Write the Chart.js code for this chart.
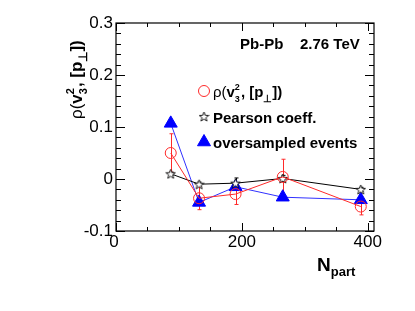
<!DOCTYPE html>
<html>
<head>
<meta charset="utf-8">
<script src="https://cdn.jsdelivr.net/npm/chart.js@4"></script>
<style>
  html, body { margin: 0; padding: 0; background: #fff; }
  #wrap { width: 415px; height: 311px; }
</style>
</head>
<body>
<div id="wrap"><canvas id="chart" width="415" height="311"></canvas></div>
<script>
const nPart = [87, 132, 190, 265, 389];
const rhoValues = [0.05, -0.037, -0.029, 0.004, -0.053];
const rhoErrors = [0.037, 0.022, 0.02, 0.034, 0.016];
const pearsonValues = [0.01, -0.01, -0.008, 0.001, -0.02];
const pearsonErrors = [0.003, 0.004, 0.01, 0.006, 0.004];
const oversampledValues = [0.107, -0.045, -0.015, -0.035, -0.04];
const xTicks = [0, 200, 400];
const yTicks = [-0.1, 0, 0.1, 0.2, 0.3];

const FONT = 'Liberation Sans, Arial, sans-serif';
const toPoints = (vals) => vals.map((v, i) => ({ x: nPart[i], y: v }));

// outlined five point star, like ROOT open star marker
function makeStar() {
  const c = document.createElement('canvas');
  c.width = 11; c.height = 11;
  const g = c.getContext('2d');
  g.strokeStyle = '#000';
  g.lineWidth = 0.9;
  g.beginPath();
  for (let i = 0; i < 10; i++) {
    const r = i % 2 === 0 ? 5 : 2.1;
    const ang = -Math.PI / 2 + i * Math.PI / 5;
    const px = 5.5 + r * Math.cos(ang), py = 6 + r * Math.sin(ang);
    if (i === 0) g.moveTo(px, py); else g.lineTo(px, py);
  }
  g.closePath();
  g.fillStyle = '#fff';
  g.fill();
  g.stroke();
  return c;
}
const starImg = makeStar();

// error bars drawn through the scales
const errorBars = {
  id: 'errorBars',
  beforeDatasetsDraw(chart) {
    const { ctx, scales: { x, y } } = chart;
    chart.data.datasets.forEach((ds) => {
      if (!ds.errors) return;
      ctx.save();
      ctx.strokeStyle = ds.borderColor;
      ctx.lineWidth = 1;
      ds.data.forEach((p, i) => {
        const px = Math.round(x.getPixelForValue(p.x)) + 0.5;
        const top = y.getPixelForValue(p.y + ds.errors[i]);
        const bot = y.getPixelForValue(p.y - ds.errors[i]);
        ctx.beginPath();
        ctx.moveTo(px, top); ctx.lineTo(px, bot);
        ctx.moveTo(px - 2, top); ctx.lineTo(px + 2, top);
        ctx.moveTo(px - 2, bot); ctx.lineTo(px + 2, bot);
        ctx.stroke();
      });
      ctx.restore();
    });
  }
};

function drawRich(ctx, parts, x, y) {
  // parts: [text, size, bold, dy]
  let cx = x;
  parts.forEach(([t, size, bold, dy]) => {
    ctx.font = (bold ? 'bold ' : '') + size + 'px ' + FONT;
    ctx.fillText(t, cx, y + (dy || 0));
    cx += ctx.measureText(t).width;
  });
  return cx;
}

// rho(v_3^2, [p_perp]) with stacked sub and superscript
function drawRho(ctx, x, y, size) {
  const small = Math.round(size * 0.62);
  let cx = drawRich(ctx, [['ρ(', size, false, 0], ['v', size, true, 0]], x, y);
  drawRich(ctx, [['2', small, true, -size * 0.45]], cx, y);
  const end = drawRich(ctx, [['3', small, true, size * 0.3]], cx, y);
  drawRich(ctx, [[', [p', size, true, 0], ['⊥', small + 1, true, size * 0.3], ['])', size, true, 0]], end + 1, y);
}

// frame, ticks, labels, legend
const frame = {
  id: 'frame',
  afterDraw(chart) {
    const { ctx, chartArea: a, scales: { x, y } } = chart;
    ctx.save();
    ctx.strokeStyle = '#000';
    ctx.lineWidth = 1.2;
    ctx.strokeRect(a.left, a.top, a.right - a.left, a.bottom - a.top);
    ctx.lineWidth = 1;
    ctx.beginPath();
    for (let v = -0.1; v <= 0.3001; v += 0.02) {
      const py = Math.round(y.getPixelForValue(v)) + 0.5;
      const major = Math.abs(Math.round(v * 10) - v * 10) < 1e-6;
      const len = major ? 9 : 5;
      ctx.moveTo(a.left, py); ctx.lineTo(a.left + len, py);
      ctx.moveTo(a.right, py); ctx.lineTo(a.right - len, py);
    }
    for (let v = 0; v <= 410; v += 50) {
      const px = Math.round(x.getPixelForValue(v)) + 0.5;
      const len = v % 200 === 0 ? 8 : 4;
      ctx.moveTo(px, a.bottom); ctx.lineTo(px, a.bottom - len);
      ctx.moveTo(px, a.top); ctx.lineTo(px, a.top + len);
    }
    ctx.stroke();

    ctx.fillStyle = '#000';
    ctx.font = '17px ' + FONT;
    ctx.textAlign = 'right';
    ctx.textBaseline = 'middle';
    yTicks.forEach((v) => {
      ctx.fillText(v === 0 ? '0' : v.toFixed(1), a.left - 3, y.getPixelForValue(v));
    });
    ctx.textAlign = 'center';
    ctx.textBaseline = 'top';
    xTicks.forEach((v) => {
      const px = x.getPixelForValue(v);
      ctx.fillText(String(v), v === 0 ? px - 2 : px, a.bottom + 3);
    });

    // x title
    ctx.textAlign = 'left';
    ctx.textBaseline = 'alphabetic';
    drawRich(ctx, [['N', 19, true, 0], ['part', 13, true, 5]], 317, 271);

    // y title (rotated)
    ctx.save();
    ctx.translate(82, 119);
    ctx.rotate(-Math.PI / 2);
    drawRho(ctx, 0, 0, 17);
    ctx.restore();

    // header text
    ctx.font = 'bold 15px ' + FONT;
    ctx.fillText('Pb-Pb    2.76 TeV', 240, 49);

    // legend markers
    const ds = chart.data.datasets;
    ctx.lineWidth = 1;
    ctx.strokeStyle = ds[0].pointBorderColor;
    ctx.fillStyle = 'rgba(0,0,0,0)';
    ctx.beginPath();
    Chart.helpers.drawPoint(ctx, { pointStyle: 'circle', radius: ds[0].pointRadius, borderWidth: 1 }, 204, 91);
    ctx.drawImage(starImg, 204 - 5.5, 117 - 6);
    ctx.fillStyle = ds[2].pointBackgroundColor;
    ctx.strokeStyle = ds[2].pointBorderColor;
    Chart.helpers.drawPoint(ctx, { pointStyle: 'triangle', radius: ds[2].pointRadius, borderWidth: 1 }, 204, 142);

    // legend text
    ctx.fillStyle = '#000';
    drawRho(ctx, 213, 97, 15);
    drawRich(ctx, [['Pearson coeff.', 15, true, 0]], 213, 123);
    drawRich(ctx, [['oversampled events', 15, true, 0]], 213, 148);
    ctx.restore();
  }
};

new Chart(document.getElementById('chart'), {
  type: 'scatter',
  data: {
    datasets: [
      {
        label: 'rho',
        data: toPoints(rhoValues),
        errors: rhoErrors,
        showLine: true,
        borderColor: '#ff2a2a',
        borderWidth: 1,
        pointStyle: 'circle',
        pointRadius: 5.5,
        pointBorderWidth: 1,
        pointBackgroundColor: 'rgba(0,0,0,0)',
        pointBorderColor: '#ff2a2a'
      },
      {
        label: 'Pearson',
        data: toPoints(pearsonValues),
        errors: pearsonErrors,
        showLine: true,
        borderColor: '#000',
        borderWidth: 1,
        pointStyle: starImg,
        pointRadius: 5,
        pointBorderWidth: 1,
        pointBackgroundColor: 'rgba(0,0,0,0)',
        pointBorderColor: '#000'
      },
      {
        label: 'oversampled',
        data: toPoints(oversampledValues),
        showLine: true,
        borderColor: '#3030ff',
        borderWidth: 1,
        pointStyle: 'triangle',
        pointRadius: 7.5,
        pointBorderWidth: 1,
        pointBackgroundColor: '#0000ff',
        pointBorderColor: '#0000ff'
      }
    ]
  },
  options: {
    responsive: false,
    animation: false,
    layout: { padding: { left: 0, right: 41, top: 23, bottom: 0 } },
    plugins: { legend: { display: false }, tooltip: { enabled: false } },
    scales: {
      x: {
        type: 'linear', min: 0, max: 410,
        grid: { display: false }, border: { display: false },
        ticks: { display: false },
        afterFit: (s) => { s.height = 80; }
      },
      y: {
        type: 'linear', min: -0.1, max: 0.3,
        grid: { display: false }, border: { display: false },
        ticks: { display: false },
        afterFit: (s) => { s.width = 116; }
      }
    }
  },
  plugins: [errorBars, frame]
});
</script>
</body>
</html>
